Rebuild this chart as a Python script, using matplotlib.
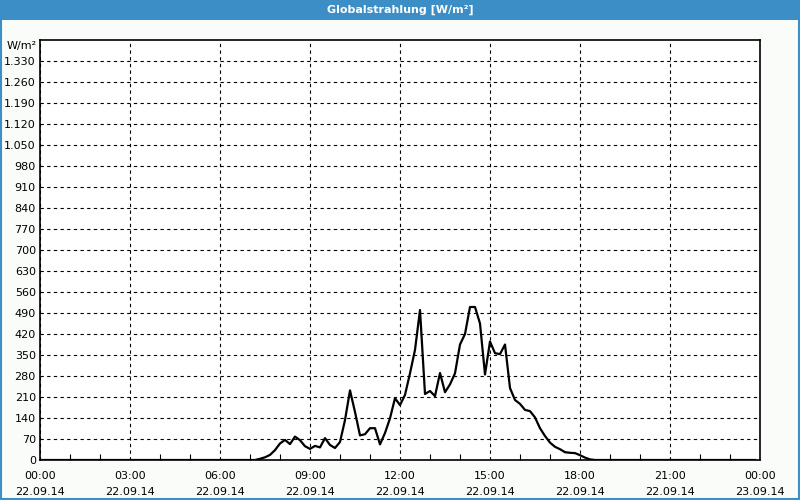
import numpy as np
import matplotlib
matplotlib.use("Agg")
import matplotlib.pyplot as plt
from matplotlib.patches import Rectangle
from matplotlib.ticker import FixedLocator, FuncFormatter

# 10-minute readings, 22.09.14 00:00 .. 23:50
hours = np.arange(144) / 6.0
radiation = [
    0, 0, 0, 0, 0, 0, 0, 0, 0, 0, 0, 0,          # 00:00 - 01:50
    0, 0, 0, 0, 0, 0, 0, 0, 0, 0, 0, 0,          # 02:00 - 03:50
    0, 0, 0, 0, 0, 0, 0, 0, 0, 0, 0, 0,          # 04:00 - 05:50
    0, 0, 0, 0, 0, 0, 0, 0, 4, 9, 17, 33,        # 06:00 - 07:50
    55, 67, 53, 78, 66, 46, 37, 47, 42, 73, 50, 40,          # 08:00 - 09:50
    60, 133, 232, 160, 82, 86, 106, 106, 52, 90, 139, 206,   # 10:00 - 11:50
    183, 217, 289, 367, 500, 220, 230, 213, 290, 226, 252, 289,  # 12:00 - 13:50
    385, 420, 510, 510, 455, 285, 395, 356, 353, 385, 240, 200,  # 14:00 - 15:50
    187, 167, 163, 142, 106, 80, 58, 44, 36, 26, 24, 23,     # 16:00 - 17:50
    16, 8, 2, 0, 0, 0, 0, 0, 0, 0, 0, 0,         # 18:00 - 19:50
    0, 0, 0, 0, 0, 0, 0, 0, 0, 0, 0, 0,          # 20:00 - 21:50
    0, 0, 0, 0, 0, 0, 0, 0, 0, 0, 0, 0,          # 22:00 - 23:50
]
x_labels = ["00:00\n22.09.14", "03:00\n22.09.14", "06:00\n22.09.14",
            "09:00\n22.09.14", "12:00\n22.09.14", "15:00\n22.09.14",
            "18:00\n22.09.14", "21:00\n22.09.14", "00:00\n23.09.14"]
title = "Globalstrahlung [W/m²]"
unit = "W/m²"

blue = "#3b8fc6"
SIZE = 8

fig = plt.figure(figsize=(8, 5), dpi=100, facecolor="#f9fcf9")
ax = fig.add_axes([0.05, 0.08, 0.90, 0.84])
ax.set_facecolor("white")

ax.plot(hours, radiation, color="black", lw=1.6, solid_joinstyle="round")

ax.set_xlim(0, 24)
ax.set_ylim(0, 1400)

ax.xaxis.set_major_locator(FixedLocator(np.arange(0, 25, 3)))
ax.xaxis.set_minor_locator(FixedLocator([h for h in range(25) if h % 3]))
ax.set_xticklabels(x_labels, linespacing=1.7)
ax.yaxis.set_major_locator(FixedLocator(np.arange(0, 1331, 70)))
ax.yaxis.set_major_formatter(FuncFormatter(lambda v, p: f"{int(v):,}".replace(",", ".")))

ax.tick_params(axis="both", which="major", length=0, labelsize=SIZE, pad=3)
ax.tick_params(axis="x", which="major", pad=8)
ax.tick_params(axis="x", which="minor", direction="in", length=4, width=0.8)
ax.grid(True, which="major", color="black", lw=0.8, linestyle=(0, (3, 3)))

for s in ax.spines.values():
    s.set_linewidth(1.2)

ax.text(-0.004, 1.0 - 6 / 420, unit, transform=ax.transAxes,
        ha="right", va="center", fontsize=SIZE)

# title bar and frame
fig.patches.append(Rectangle((0, 0.96), 1, 0.04, transform=fig.transFigure,
                             facecolor=blue, edgecolor="none", zorder=-1))
fig.patches.append(Rectangle((0.001, 0.002), 0.998, 0.996, transform=fig.transFigure,
                             facecolor="none", edgecolor=blue, lw=1.5, zorder=-1))
fig.text(0.5, 0.98, title, ha="center", va="center", color="white",
         fontsize=SIZE, fontweight="bold")

fig.savefig("out.png", dpi=100, facecolor=fig.get_facecolor())
